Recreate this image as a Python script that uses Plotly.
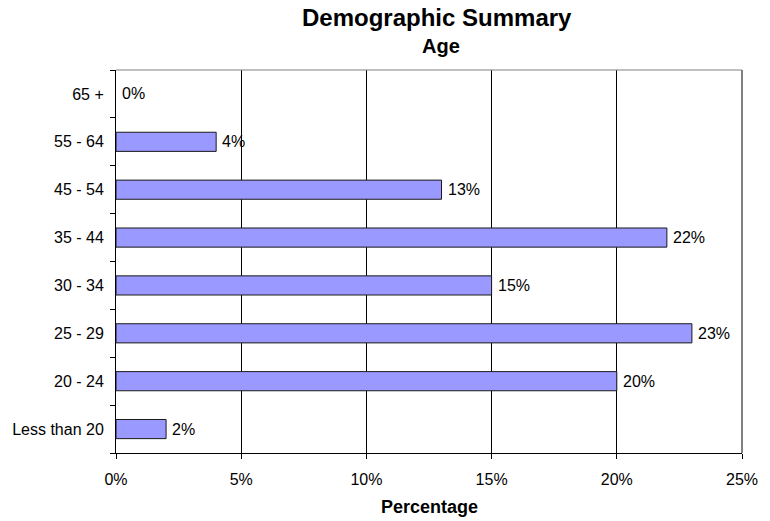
import plotly.graph_objects as go

# Age brackets, listed bottom to top as drawn on the category axis
age_groups = ["Less than 20", "20 - 24", "25 - 29", "30 - 34", "35 - 44", "45 - 54", "55 - 64", "65 +"]
share_pct = [2, 20, 23, 15, 22, 13, 4, 0]
x_ticks = [0, 5, 10, 15, 20, 25]
x_tick_labels = ["0%", "5%", "10%", "15%", "20%", "25%"]

W, H = 770, 521
L, R, T, B = 116, 16, 70, 68
plot_w = W - L - R
plot_h = H - T - B

FONT = "Liberation Sans, Arial, sans-serif"

fig = go.Figure(
    go.Bar(
        x=share_pct,
        y=age_groups,
        orientation="h",
        marker=dict(
            color="#9999FF",
            # empty bars get no outline so nothing sits on the axis line
            line=dict(color="#1a1a1a", width=[1 if v > 0 else 0 for v in share_pct]),
        ),
        hoverinfo="skip",
    )
)

# value labels placed just past the end of each bar
value_labels = [
    dict(x=v, y=g, xref="x", yref="y", text=f"{v}%", showarrow=False,
         xanchor="left", yanchor="middle", xshift=4,
         font=dict(family=FONT, size=16, color="#000000"))
    for g, v in zip(age_groups, share_pct)
]

fig.update_layout(
    width=W,
    height=H,
    margin=dict(l=L, r=R, t=T, b=B, pad=0),
    paper_bgcolor="#FFFFFF",
    plot_bgcolor="#FFFFFF",
    bargap=0.6,
    showlegend=False,
    font=dict(family=FONT, size=16, color="#000000"),
    xaxis=dict(
        range=[0, 25],
        tickvals=x_ticks,
        ticktext=x_tick_labels,
        showgrid=True,
        gridcolor="#000000",
        gridwidth=1,
        showline=True,
        linecolor="#000000",
        linewidth=1,
        ticks="outside",
        ticklen=5,
        tickcolor="#000000",
        ticklabelstandoff=7,
        ticklabeloverflow="allow",
        tickfont=dict(family=FONT, size=16),
        zeroline=False,
        fixedrange=True,
    ),
    yaxis=dict(
        categoryorder="array",
        categoryarray=age_groups,
        showgrid=False,
        showline=True,
        linecolor="#000000",
        linewidth=1,
        ticks="outside",
        tickson="boundaries",
        ticklen=5,
        tickcolor="#000000",
        ticklabelstandoff=8,
        tickfont=dict(family=FONT, size=16),
        fixedrange=True,
    ),
    shapes=[
        # grey frame on the top and right of the plot area
        dict(type="line", xref="paper", yref="paper", x0=0, x1=1, y0=1, y1=1,
             line=dict(color="#808080", width=1)),
        dict(type="line", xref="paper", yref="paper", x0=1, x1=1, y0=0, y1=1,
             line=dict(color="#808080", width=2)),
    ],
    annotations=value_labels + [
        dict(text="<b>Demographic Summary</b>", xref="paper", yref="paper",
             x=(443 - L) / plot_w, y=1 + (T - 18) / plot_h, xanchor="center", yanchor="middle",
             showarrow=False, font=dict(family=FONT, size=24, color="#000000")),
        dict(text="<b>Age</b>", xref="paper", yref="paper",
             x=(447 - L) / plot_w, y=1 + (T - 46) / plot_h, xanchor="center", yanchor="middle",
             showarrow=False, font=dict(family=FONT, size=20, color="#000000")),
        dict(text="<b>Percentage</b>", xref="paper", yref="paper",
             x=0.5, y=-(507 - (H - B)) / plot_h, xanchor="center", yanchor="middle",
             showarrow=False, font=dict(family=FONT, size=18, color="#000000")),
    ],
)

fig.write_html("out.html")
